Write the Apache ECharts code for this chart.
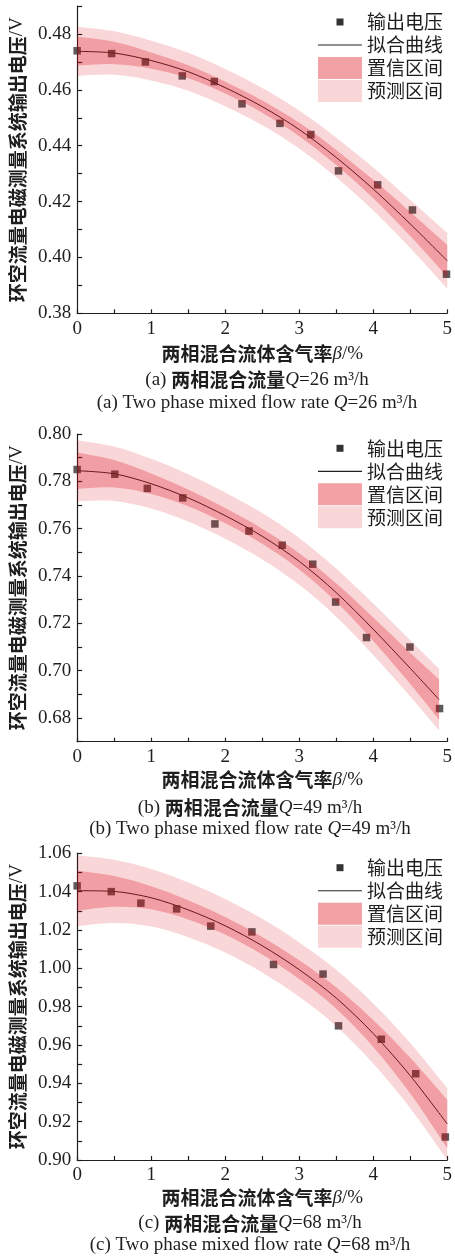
<!DOCTYPE html>
<html>
<head>
<meta charset="utf-8">
<script src="https://cdn.jsdelivr.net/npm/echarts@6/dist/echarts.min.js"></script>
<style>
  html, body { margin: 0; padding: 0; background: #fff; }
  #chart { width: 455px; height: 1256px; }
</style>
</head>
<body>
<div id="chart"></div>
<script>
// ---- measured output voltage (β in %, voltage in V) ----
const ptsXA = [0, 0.466, 0.922, 1.42, 1.853, 2.227, 2.74, 3.157, 3.531, 4.06, 4.53, 4.99];
const ptsYA = [0.474, 0.473, 0.470, 0.465, 0.463, 0.455, 0.448, 0.444, 0.431, 0.426, 0.417, 0.394];
const ptsXB = [0, 0.509, 0.948, 1.427, 1.861, 2.322, 2.77, 3.183, 3.492, 3.909, 4.496, 4.896];
const ptsYB = [0.785, 0.783, 0.777, 0.773, 0.762, 0.759, 0.753, 0.745, 0.729, 0.714, 0.710, 0.684];
const ptsXC = [0, 0.461, 0.861, 1.344, 1.805, 2.361, 2.653, 3.322, 3.531, 4.109, 4.574, 4.974];
const ptsYC = [1.043, 1.040, 1.034, 1.031, 1.022, 1.019, 1.002, 0.997, 0.970, 0.963, 0.945, 0.912];

// ---- fitted curve with confidence / prediction half-widths ----
const betaA = [0, 0.5, 1, 1.5, 2, 2.5, 3, 3.5, 4, 4.5, 5];
const fitA = [0.4738, 0.4732, 0.4705, 0.4665, 0.4608, 0.4540, 0.4458, 0.4358, 0.4245, 0.4120, 0.3988];
const confHalfA = [0.0052, 0.0040, 0.0029, 0.0023, 0.0021, 0.0022, 0.0024, 0.0027, 0.0033, 0.0043, 0.0057];
const predHalfA = [0.0088, 0.0078, 0.0071, 0.0068, 0.0067, 0.0067, 0.0068, 0.0071, 0.0077, 0.0086, 0.0100];

const betaB = [0, 0.5, 1, 1.5, 2, 2.5, 3, 3.5, 4, 4.5, 4.89];
const fitB = [0.7845, 0.7832, 0.7790, 0.7730, 0.7655, 0.7568, 0.7462, 0.7330, 0.7175, 0.7010, 0.6878];
const confHalfB = [0.0077, 0.0058, 0.0043, 0.0035, 0.0032, 0.0032, 0.0034, 0.0039, 0.0050, 0.0066, 0.0085];
const predHalfB = [0.0129, 0.0115, 0.0105, 0.0100, 0.0098, 0.0098, 0.0099, 0.0102, 0.0109, 0.0119, 0.0130];

const betaC = [0, 0.5, 1, 1.5, 2, 2.5, 3, 3.5, 4, 4.5, 5];
const fitC = [1.0405, 1.0401, 1.0368, 1.0305, 1.0222, 1.0118, 0.9993, 0.9845, 0.9660, 0.9440, 0.9188];
const confHalfC = [0.0105, 0.0080, 0.0060, 0.0050, 0.0046, 0.0046, 0.0049, 0.0056, 0.0070, 0.0093, 0.0126];
const predHalfC = [0.0185, 0.0165, 0.0150, 0.0143, 0.0140, 0.0140, 0.0142, 0.0147, 0.0157, 0.0170, 0.0187];

// ---- axis ranges and text ----
const yMin = [0.38, 0.67, 0.90];
const yMax = [0.49, 0.80, 1.06];
const flowRates = ['26', '49', '68'];
const panelTags = ['(a)', '(b)', '(c)'];
const legendNames = ['输出电压', '拟合曲线', '置信区间', '预测区间'];

const SERIF = '"Liberation Serif", "Times New Roman", serif';
const CJK = '"Noto Sans CJK SC", sans-serif';
const INK = '#1e1e1e';
const PRED_FILL = 'rgba(221, 5, 16, 0.165)';
const CONF_FILL = 'rgba(221, 5, 16, 0.26)';
const PRED_KEY = '#F9D6D8';
const CONF_KEY = '#F2A1A4';

const panels = [
  { beta: betaA, fit: fitA, conf: confHalfA, pred: predHalfA, px: ptsXA, py: ptsYA },
  { beta: betaB, fit: fitB, conf: confHalfB, pred: predHalfB, px: ptsXB, py: ptsYB },
  { beta: betaC, fit: fitC, conf: confHalfC, pred: predHalfC, px: ptsXC, py: ptsYC }
];

// plot areas (px)
const gridBoxes = [
  { left: 68.3, top: 6.1, width: 383.4, height: 307.2 },
  { left: 68.3, top: 434, width: 383.4, height: 307.7 },
  { left: 68.3, top: 853.3, width: 383.4, height: 306.7 }
];
const xNameGap = [31, 28.5, 28.5];
const legendTop = [11, 437.3, 856.7];
const captionY = [[380, 403.3], [807.7, 829], [1223.3, 1245]];
const captionX = [257, 250, 250];

// Catmull-Rom through screen points, expressed as cubic Béziers
function curvePath(pts, start) {
  let d = (start ? 'M' : 'L') + pts[0][0] + ',' + pts[0][1];
  for (let i = 0; i < pts.length - 1; i++) {
    const p0 = pts[i - 1] || pts[i], p1 = pts[i], p2 = pts[i + 1], p3 = pts[i + 2] || p2;
    const c1x = p1[0] + (p2[0] - p0[0]) / 6, c1y = p1[1] + (p2[1] - p0[1]) / 6;
    const c2x = p2[0] - (p3[0] - p1[0]) / 6, c2y = p2[1] - (p3[1] - p1[1]) / 6;
    d += 'C' + c1x + ',' + c1y + ',' + c2x + ',' + c2y + ',' + p2[0] + ',' + p2[1];
  }
  return d;
}

function bandRenderer(p, half) {
  return function (params, api) {
    const upper = p.beta.map((b, i) => api.coord([b, p.fit[i] + half[i]]));
    const lower = p.beta.map((b, i) => api.coord([b, p.fit[i] - half[i]])).reverse();
    return {
      type: 'path',
      shape: { pathData: curvePath(upper, true) + curvePath(lower, false) + 'Z' },
      style: { fill: half === p.conf ? CONF_FILL : PRED_FILL }
    };
  };
}

const legendIcons = {
  square: 'path://M0,0M44,0M44,22M0,22M18.5,7.5h7v7h-7z',
  line: 'path://M0,0M44,0M44,22M0,22M0,10.5h44v1.1h-44z'
};

const grids = [], xAxes = [], yAxes = [], series = [], legends = [], graphics = [];

panels.forEach((p, i) => {
  grids.push(Object.assign({ containLabel: false }, gridBoxes[i]));

  xAxes.push({
    gridIndex: i, type: 'value', min: 0, max: 5, interval: 0.5,
    axisLine: { show: true, lineStyle: { color: INK, width: 1.2 } },
    axisTick: { show: true, inside: true, length: 4, lineStyle: { color: INK, width: 1.2 } },
    splitLine: { show: false },
    axisLabel: {
      margin: 6, fontFamily: SERIF, fontSize: 19, color: INK,
      formatter: v => (Math.abs(v - Math.round(v)) < 1e-9 ? String(Math.round(v)) : '')
    },
    name: '{c|两相混合流体含气率}{i|β}{s|/%}',
    nameLocation: 'middle', nameGap: xNameGap[i],
    nameTextStyle: {
      rich: {
        c: { fontFamily: CJK, fontWeight: 'bold', fontSize: 19, color: INK },
        i: { fontFamily: SERIF, fontStyle: 'italic', fontSize: 19, color: INK },
        s: { fontFamily: SERIF, fontSize: 19, color: INK }
      }
    }
  });

  yAxes.push({
    gridIndex: i, type: 'value', min: yMin[i], max: yMax[i], interval: 0.01,
    axisLine: { show: true, lineStyle: { color: INK, width: 1.2 } },
    axisTick: { show: true, inside: true, length: 5, lineStyle: { color: INK, width: 1.2 } },
    splitLine: { show: false },
    axisLabel: {
      margin: 6, fontFamily: SERIF, fontSize: 19, color: INK,
      formatter: v => (Math.round(v * 100) % 2 === 0 ? v.toFixed(2) : '')
    },
    name: '{c|环空流量电磁测量系统输出电压}{s|/V}',
    nameLocation: 'middle', nameRotate: 90, nameGap: 44,
    nameTextStyle: {
      rich: {
        c: { fontFamily: CJK, fontWeight: 'bold', fontSize: 19, color: INK },
        s: { fontFamily: SERIF, fontSize: 19, color: INK }
      }
    }
  });

  series.push({
    type: 'scatter', name: legendNames[0], xAxisIndex: i, yAxisIndex: i,
    data: p.px.map((x, k) => [x, p.py[k]]),
    symbol: 'rect', symbolSize: 7.5, clip: false, z: 2,
    itemStyle: { color: '#333333' },
    emphasis: { disabled: true }
  });
  series.push({
    type: 'line', name: legendNames[1], xAxisIndex: i, yAxisIndex: i,
    data: p.beta.map((b, k) => [b, p.fit[k]]),
    smooth: 0.3, symbol: 'none', z: 2,
    lineStyle: { color: '#222222', width: 1 },
    emphasis: { disabled: true }
  });
  series.push({
    type: 'custom', name: legendNames[3], xAxisIndex: i, yAxisIndex: i,
    coordinateSystem: 'cartesian2d', data: [[p.beta[0], p.fit[0]]],
    renderItem: bandRenderer(p, p.pred), silent: true, z: 3,
    itemStyle: { color: PRED_KEY }
  });
  series.push({
    type: 'custom', name: legendNames[2], xAxisIndex: i, yAxisIndex: i,
    coordinateSystem: 'cartesian2d', data: [[p.beta[0], p.fit[0]]],
    renderItem: bandRenderer(p, p.conf), silent: true, z: 3,
    itemStyle: { color: CONF_KEY }
  });

  legends.push({
    orient: 'vertical', left: 318, top: legendTop[i],
    itemWidth: 44, itemHeight: 22, itemGap: 1, padding: 0,
    selectedMode: false,
    textStyle: { fontFamily: CJK, fontSize: 19, color: INK },
    data: [
      { name: legendNames[0], icon: legendIcons.square, itemStyle: { color: '#333333', borderWidth: 0, opacity: 1 } },
      { name: legendNames[1], icon: legendIcons.line, itemStyle: { color: '#222222', borderWidth: 0, opacity: 1 } },
      { name: legendNames[2], icon: 'rect', itemStyle: { color: CONF_KEY, borderWidth: 0, opacity: 1 } },
      { name: legendNames[3], icon: 'rect', itemStyle: { color: PRED_KEY, borderWidth: 0, opacity: 1 } }
    ]
  });

  const rich = {
    s: { fontFamily: SERIF, fontSize: 19, fill: INK, color: INK },
    c: { fontFamily: CJK, fontWeight: 'bold', fontSize: 19, fill: INK, color: INK },
    i: { fontFamily: SERIF, fontStyle: 'italic', fontSize: 19, fill: INK, color: INK }
  };
  graphics.push({
    type: 'text', x: captionX[i], y: captionY[i][0], silent: true,
    style: {
      text: '{s|' + panelTags[i] + ' }{c|两相混合流量}{i|Q}{s|=' + flowRates[i] + ' m³/h}',
      rich: rich, align: 'center', verticalAlign: 'middle'
    }
  });
  graphics.push({
    type: 'text', x: captionX[i], y: captionY[i][1], silent: true,
    style: {
      text: '{s|' + panelTags[i] + ' Two phase mixed flow rate }{i|Q}{s|=' + flowRates[i] + ' m³/h}',
      rich: rich, align: 'center', verticalAlign: 'middle'
    }
  });
});

const chart = echarts.init(document.getElementById('chart'), null, { renderer: 'canvas' });
chart.setOption({
  animation: false,
  backgroundColor: '#ffffff',
  grid: grids,
  xAxis: xAxes,
  yAxis: yAxes,
  legend: legends,
  series: series,
  graphic: graphics
});
</script>
</body>
</html>
